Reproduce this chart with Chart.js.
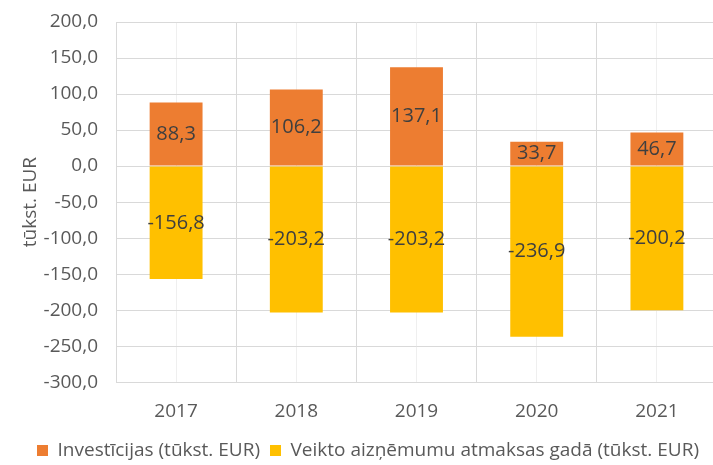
<!DOCTYPE html>
<html>
<head>
<meta charset="utf-8">
<script src="https://cdn.jsdelivr.net/npm/chart.js@4.4.1/dist/chart.umd.min.js"></script>
<style>
  html, body { margin: 0; padding: 0; background: #fff; overflow: hidden; }
  #wrap { width: 720px; height: 465px; position: relative; }
</style>
</head>
<body>
<div id="wrap"><canvas id="chart"></canvas></div>
<script>
const years = ['2017', '2018', '2019', '2020', '2021'];
const investicijas = [88.3, 106.2, 137.1, 33.7, 46.7];
const atmaksas = [-156.8, -203.2, -203.2, -236.9, -200.2];
const yMin = -300;
const yMax = 200;

const fmt = v => v.toFixed(1).replace('.', ',');

// labels in the middle of each bar
const barLabels = {
  id: 'barLabels',
  afterDatasetsDraw(chart) {
    const ctx = chart.ctx;
    ctx.save();
    ctx.font = '20px "Open Sans"';
    ctx.fillStyle = '#3f3f3f';
    ctx.textAlign = 'center';
    ctx.textBaseline = 'middle';
    chart.data.datasets.forEach((ds, i) => {
      chart.getDatasetMeta(i).data.forEach((bar, j) => {
        const p = bar.getProps(['x', 'y', 'base'], true);
        ctx.fillText(fmt(ds.data[j]), p.x, (p.y + p.base) / 2);
      });
    });
    ctx.restore();
  }
};

new Chart(document.getElementById('chart'), {
  type: 'bar',
  data: {
    labels: years,
    datasets: [
      {
        label: 'Investīcijas (tūkst. EUR)',
        data: investicijas,
        backgroundColor: '#ED7D31',
        barPercentage: 0.44,
        categoryPercentage: 1
      },
      {
        label: 'Veikto aizņēmumu atmaksas gadā (tūkst. EUR)',
        data: atmaksas,
        backgroundColor: '#FFC000',
        barPercentage: 0.44,
        categoryPercentage: 1
      }
    ]
  },
  options: {
    responsive: true,
    maintainAspectRatio: false,
    animation: false,
    layout: { padding: { top: 22, right: 3, left: 19, bottom: -5 } },
    plugins: {
      legend: {
        position: 'bottom',
        labels: {
          boxWidth: 11,
          boxHeight: 11,
          padding: 10,
          color: '#595959',
          font: { family: 'Open Sans', size: 19 }
        }
      },
      tooltip: { enabled: false }
    },
    scales: {
      x: {
        stacked: true,
        afterFit: scale => { scale.height -= 10; },
        grid: { color: '#d9d9d9', offset: true, drawTicks: false },
        border: { color: '#d9d9d9' },
        ticks: {
          color: '#595959',
          padding: 18,
          font: { family: 'Open Sans', size: 19 }
        }
      },
      xMinor: {
        type: 'category',
        labels: years,
        position: 'bottom',
        offset: true,
        grid: { color: '#efefef', offset: false, drawTicks: false },
        border: { display: false },
        ticks: { display: false }
      },
      y: {
        stacked: true,
        min: yMin,
        max: yMax,
        afterFit: scale => {
          scale.width = 97;
          scale.paddingTop = 0;
          scale.paddingBottom = 0;
        },
        ticks: {
          stepSize: 10,
          autoSkip: false,
          color: '#595959',
          padding: 18,
          font: { family: 'Open Sans', size: 19 },
          callback: v => (v % 50 === 0 ? fmt(v) : null)
        },
        grid: {
          drawTicks: false,
          color: c => (c.tick && c.tick.value % 50 === 0 ? '#d9d9d9' : '#efefef')
        },
        border: { display: false },
        title: {
          display: true,
          text: 'tūkst. EUR',
          color: '#595959',
          font: { family: 'Open Sans', size: 19 },
          padding: 0
        }
      }
    }
  },
  plugins: [barLabels]
});
</script>
</body>
</html>
